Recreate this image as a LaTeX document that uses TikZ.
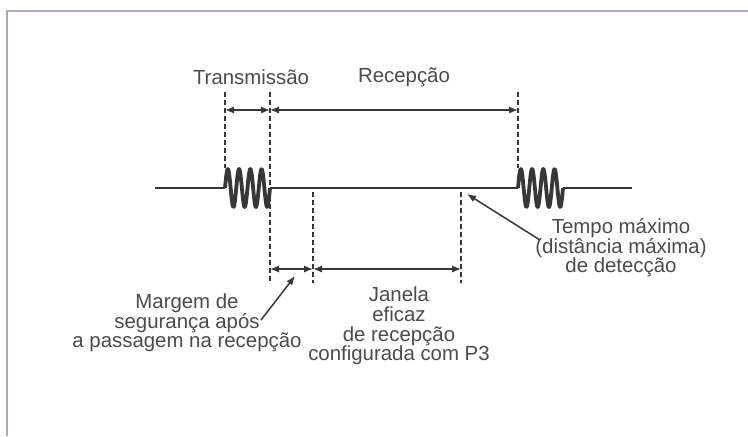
\documentclass[tikz,border=0pt]{standalone}
\usepackage{fontspec}
\setmainfont{Liberation Sans}
\usetikzlibrary{arrows.meta, positioning}
\definecolor{inkgray}{RGB}{55,55,55}
\definecolor{textgray}{RGB}{75,75,75}
\definecolor{framegray}{RGB}{165,170,190}

\begin{document}
\begin{tikzpicture}[
    x=0.5pt, y=-0.5pt,
    signal/.style={line width=1.3pt, inkgray},
    burst/.style={line width=1.9pt, inkgray, line join=round},
    guide/.style={dash pattern=on 2.5pt off 1.5pt, line width=0.7pt, inkgray},
    dim/.style={{Latex[length=4.5pt,width=3.6pt]}-{Latex[length=4.5pt,width=3.6pt]}, line width=0.75pt, inkgray},
    pointer/.style={-{Latex[length=4.5pt,width=3.6pt]}, line width=0.75pt, inkgray},
    label/.style={align=center, text=textgray, font=\fontsize{10.2}{9.8}\selectfont, inner sep=0pt}
]
\useasboundingbox (0,0) rectangle (748,436);
\fill[white] (0,0) rectangle (748,436);

% Frame
\draw[framegray, line width=0.8pt] (7,436) -- (7,11) -- (748,11);

% Signal with the two bursts
\draw[signal] (155,188) -- (225,188);
\draw[burst] plot[domain=0:45, samples=120, smooth] ({225+\x}, {188-19*sin(32*\x)});
\draw[signal] (270,188) -- (518,188);
\draw[burst] plot[domain=0:45, samples=120, smooth] ({518+\x}, {188-19*sin(32*\x)});
\draw[signal] (563,188) -- (632,188);

% Guide lines
\draw[guide] (225,92) -- (225,168);
\draw[guide] (270,92) -- (270,283);
\draw[guide] (313,192) -- (313,283);
\draw[guide] (461,192) -- (461,283);
\draw[guide] (518,92) -- (518,168);

% Dimension points
\coordinate (txa) at (225,110);
\coordinate (txb) at (270,110);
\coordinate (rxb) at (518,110);
\coordinate (mga) at (270,269);
\coordinate (mgb) at (313,269);
\coordinate (jnb) at (461,269);

% Labels
\node[label] (txlabel) at (251,77) {Transmissão};
\node[label] (rxlabel) at (404,77) {Recepção};
\node[label] (tempo) at (621,248) {Tempo máximo\\(distância máxima)\\de detecção};
\node[label] (janela) at (399,326) {Janela\\eficaz\\de recepção\\configurada com P3};
\node[label] (margem) at (187,323) {Margem de\\segurança após\\a passagem na recepção};

% Dimensions
\draw[dim] (txa) -- (txb);
\draw[dim] (txb) -- (rxb);
\draw[dim] (mga) -- (mgb);
\draw[dim] (mgb) -- (jnb);

% Pointers
\coordinate (mgtail) at (261,320);
\coordinate (mgtip) at (295,276);
\coordinate (tmtail) at (540,240);
\coordinate (tmtip) at (467,194);
\draw[pointer] (mgtail) -- (mgtip);
\draw[pointer] (tmtail) -- (tmtip);
\end{tikzpicture}
\end{document}
